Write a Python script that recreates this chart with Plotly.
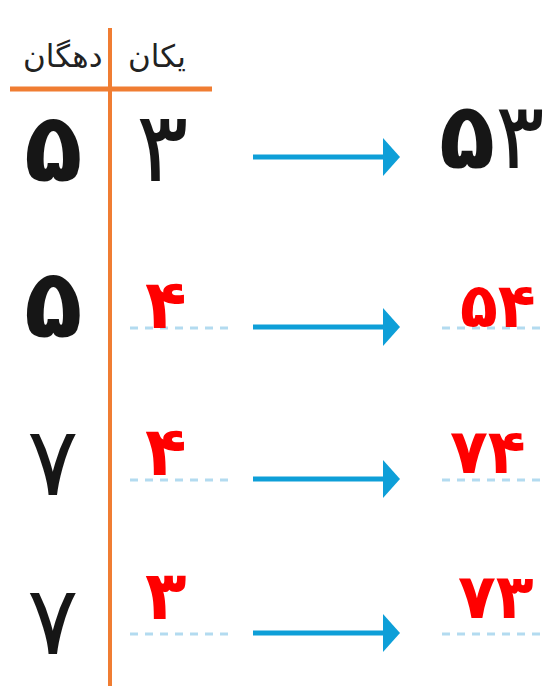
import plotly.graph_objects as go

# place-value table: tens | ones -> number (first row given, the rest are answers)
tens = [5, 5, 7, 7]
ones = [3, 4, 4, 3]
numbers = [53, 54, 74, 73]
header_tens = "دهگان"
header_ones = "یکان"

fa = str.maketrans("0123456789", "۰۱۲۳۴۵۶۷۸۹")
def persian(n):
    return str(n).translate(fa)

W, H = 552, 686
OFF = 8  # page body margin, shift axes so data units = page pixels

# layout (pixel positions of each row)
arrow_y = [157, 327, 479, 633]
tens_y = [150, 306, 464, 623]
ones_y = [149, 306, 453, 597]
num_y = [138, 307, 453, 598]
ones_x = [162, 166, 166, 166]
num_x = [492, 498, 488, 496]

orange = "#F07D32"
blue = "#0E9FD8"
light_blue = "#B3DBF0"
red = "#FF0000"
black = "#161616"
font = "DejaVu Sans"

def digits_html(n, answer):
    out = ""
    for ch in str(n):
        g = persian(ch)
        out += "<b>" + g + "</b>" if (answer or ch == "5") else g
    return out

fig = go.Figure()
fig.add_trace(go.Scatter(x=[OFF, W], y=[OFF, H], mode="markers",
                         marker=dict(opacity=0), hoverinfo="skip"))

# table lines
fig.add_shape(type="line", x0=10, x1=212, y0=89, y1=89, line=dict(color=orange, width=5))
fig.add_shape(type="line", x0=110, x1=110, y0=28, y1=H + OFF, line=dict(color=orange, width=4))

fig.add_annotation(x=62, y=56, text=header_tens, showarrow=False,
                   font=dict(family=font, size=31, color="#222"))
fig.add_annotation(x=157, y=56, text=header_ones, showarrow=False,
                   font=dict(family=font, size=31, color="#222"))

for i, (t, o, n) in enumerate(zip(tens, ones, numbers)):
    y = arrow_y[i]
    answer = i > 0
    col = red if answer else black
    # tens digit (always given)
    fig.add_annotation(x=53, y=tens_y[i] - 2, text=digits_html(t, False), showarrow=False,
                       font=dict(family=font, size=96, color=black))
    # ones digit
    fig.add_annotation(x=ones_x[i], y=ones_y[i] - 2, text=digits_html(o, answer), showarrow=False,
                       font=dict(family=font, size=68 if answer else 98, color=col))
    # result
    fig.add_annotation(x=num_x[i], y=num_y[i] - 2, text=digits_html(n, answer), showarrow=False,
                       font=dict(family=font, size=62 if answer else 92, color=col))
    if answer:
        dy = y + 1
        for x0, x1 in [(130, 231), (442, 544)]:
            fig.add_shape(type="line", x0=x0, x1=x1, y0=dy, y1=dy,
                          line=dict(color=light_blue, width=3, dash="8px,7px"))
    # arrow: shaft + filled head
    fig.add_shape(type="line", x0=253, x1=386, y0=y, y1=y, line=dict(color=blue, width=5))
    fig.add_shape(type="path", path=f"M 383 {y - 19} L 400 {y} L 383 {y + 19} Z",
                  fillcolor=blue, line=dict(width=0))

fig.update_xaxes(range=[OFF, W + OFF], visible=False, fixedrange=True)
fig.update_yaxes(range=[H + OFF, OFF], visible=False, fixedrange=True)
fig.update_layout(width=W, height=H, margin=dict(l=0, r=0, t=0, b=0),
                  paper_bgcolor="white", plot_bgcolor="white", showlegend=False)
fig.write_html("out.html")
